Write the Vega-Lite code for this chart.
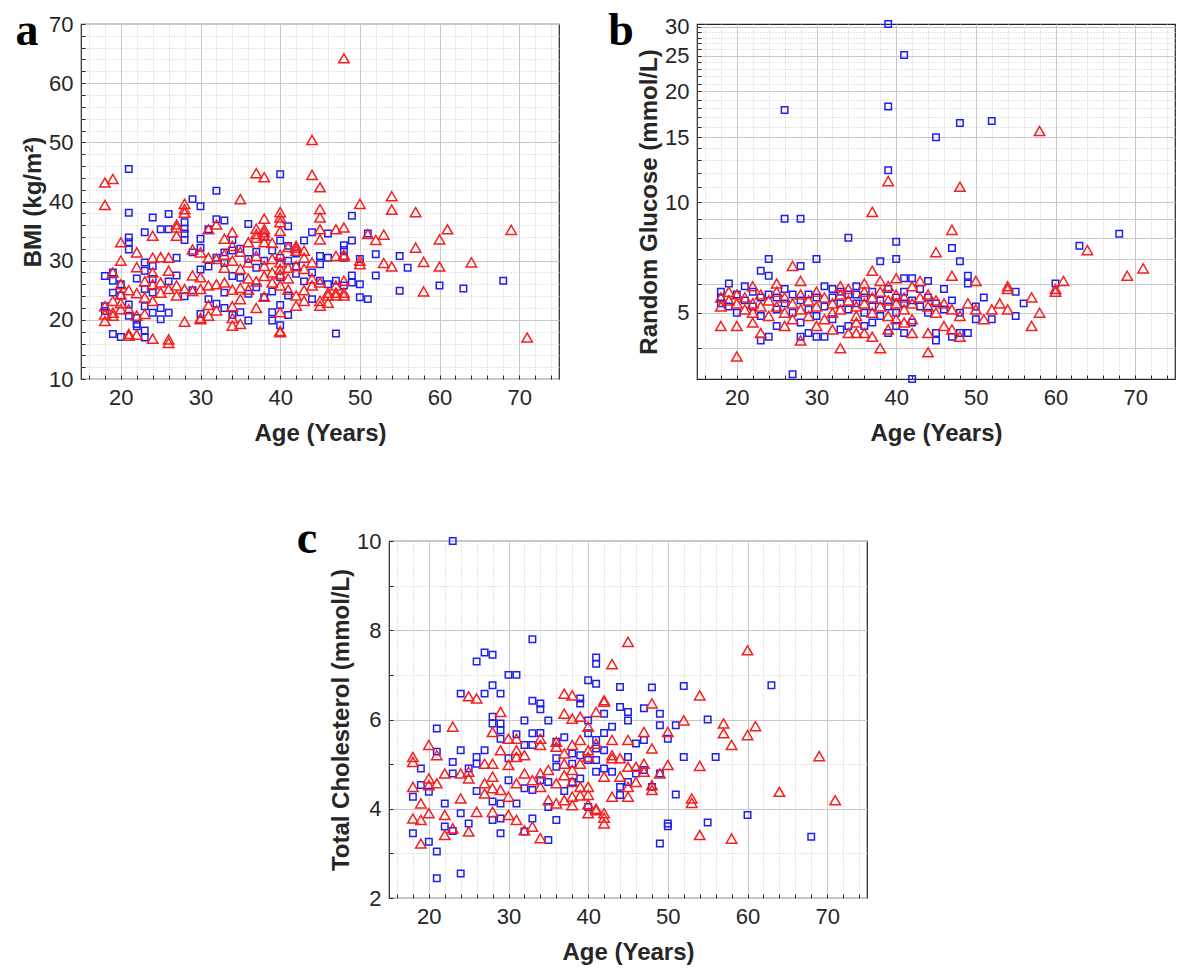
{
  "$schema": "https://vega.github.io/schema/vega-lite/v6.json",
  "padding": {"left": 14, "top": 7, "right": 5, "bottom": 5},
  "datasets": {
    "bmi": [
      {"age":21,"v":45.5,"g":1},{"age":21,"v":38.1,"g":1},{"age":21,"v":33.9,"g":1},{"age":21,"v":33.1,"g":1},{"age":21,"v":31.9,"g":1},{"age":18,"v":27.4,"g":1},{"age":19,"v":28,"g":1},{"age":19,"v":26.6,"g":1},{"age":18,"v":22.3,"g":1},{"age":19,"v":24.6,"g":1},{"age":20,"v":24.1,"g":1},{"age":21,"v":22.6,"g":1},{"age":21,"v":20.7,"g":1},{"age":22,"v":19.3,"g":1},{"age":23,"v":18.2,"g":1},{"age":19,"v":17.6,"g":1},{"age":20,"v":17.1,"g":1},{"age":23,"v":29.7,"g":1},{"age":24,"v":29.1,"g":1},{"age":23,"v":28.3,"g":1},{"age":24,"v":26.9,"g":1},{"age":23,"v":25.2,"g":1},{"age":24,"v":24.6,"g":1},{"age":23,"v":22.3,"g":1},{"age":24,"v":21.2,"g":1},{"age":25,"v":22,"g":1},{"age":25,"v":20.1,"g":1},{"age":26,"v":21.2,"g":1},{"age":26,"v":37.9,"g":1},{"age":26,"v":35.3,"g":1},{"age":25,"v":35.3,"g":1},{"age":24,"v":37.3,"g":1},{"age":23,"v":34.8,"g":1},{"age":28,"v":36.5,"g":1},{"age":28,"v":35.4,"g":1},{"age":28,"v":34.6,"g":1},{"age":28,"v":33.5,"g":1},{"age":29,"v":40.4,"g":1},{"age":30,"v":39.2,"g":1},{"age":32,"v":41.8,"g":1},{"age":32,"v":37,"g":1},{"age":33,"v":36.8,"g":1},{"age":36,"v":36.2,"g":1},{"age":40,"v":44.6,"g":1},{"age":41,"v":35.8,"g":1},{"age":29,"v":31.4,"g":1},{"age":30,"v":33.7,"g":1},{"age":30,"v":32.2,"g":1},{"age":31,"v":35.3,"g":1},{"age":33,"v":31.4,"g":1},{"age":34,"v":31.7,"g":1},{"age":35,"v":32,"g":1},{"age":36,"v":30.3,"g":1},{"age":33,"v":29.6,"g":1},{"age":34,"v":27.4,"g":1},{"age":35,"v":27.1,"g":1},{"age":33,"v":24.6,"g":1},{"age":31,"v":23.5,"g":1},{"age":32,"v":22.7,"g":1},{"age":35,"v":21.3,"g":1},{"age":36,"v":19.9,"g":1},{"age":34,"v":20.8,"g":1},{"age":39,"v":21.3,"g":1},{"age":39,"v":19.9,"g":1},{"age":40,"v":19.1,"g":1},{"age":41,"v":20.8,"g":1},{"age":40,"v":22.5,"g":1},{"age":39,"v":24.8,"g":1},{"age":41,"v":24.1,"g":1},{"age":40,"v":27.2,"g":1},{"age":42,"v":27.8,"g":1},{"age":42,"v":31.2,"g":1},{"age":43,"v":33.4,"g":1},{"age":40,"v":33.4,"g":1},{"age":39,"v":31.7,"g":1},{"age":38,"v":30,"g":1},{"age":37,"v":28.8,"g":1},{"age":36,"v":24.4,"g":1},{"age":38,"v":23.8,"g":1},{"age":45,"v":30.8,"g":1},{"age":45,"v":29.4,"g":1},{"age":46,"v":34.6,"g":1},{"age":48,"v":32.6,"g":1},{"age":48,"v":31.8,"g":1},{"age":49,"v":33.4,"g":1},{"age":49,"v":37.6,"g":1},{"age":51,"v":34.6,"g":1},{"age":52,"v":31.1,"g":1},{"age":52,"v":27.5,"g":1},{"age":55,"v":30.8,"g":1},{"age":56,"v":28.8,"g":1},{"age":55,"v":24.9,"g":1},{"age":60,"v":25.8,"g":1},{"age":63,"v":25.3,"g":1},{"age":68,"v":26.6,"g":1},{"age":47,"v":26.6,"g":1},{"age":48,"v":25.8,"g":1},{"age":49,"v":27.5,"g":1},{"age":49,"v":26.3,"g":1},{"age":50,"v":26,"g":1},{"age":50,"v":23.8,"g":1},{"age":51,"v":23.5,"g":1},{"age":47,"v":17.7,"g":1},{"age":45,"v":26.6,"g":1},{"age":46,"v":26,"g":1},{"age":44,"v":34.8,"g":1},{"age":22,"v":20.3,"g":1},{"age":22,"v":18.9,"g":1},{"age":23,"v":17,"g":1},{"age":18,"v":21.5,"g":1},{"age":20,"v":26,"g":1},{"age":22,"v":27,"g":1},{"age":27,"v":27.5,"g":1},{"age":27,"v":30.5,"g":1},{"age":29,"v":25,"g":1},{"age":30,"v":28.5,"g":1},{"age":31,"v":29,"g":1},{"age":32,"v":30.5,"g":1},{"age":34,"v":33.5,"g":1},{"age":37,"v":31.5,"g":1},{"age":38,"v":34,"g":1},{"age":41,"v":30,"g":1},{"age":42,"v":29,"g":1},{"age":43,"v":26.5,"g":1},{"age":44,"v":28,"g":1},{"age":44,"v":23.5,"g":1},{"age":26,"v":26.5,"g":1},{"age":28,"v":24,"g":1},{"age":30,"v":21,"g":1},{"age":33,"v":22,"g":1},{"age":37,"v":25.5,"g":1},{"age":40,"v":30.5,"g":1},{"age":41,"v":32.5,"g":1},{"age":46,"v":30.5,"g":1},{"age":48,"v":30.5,"g":1},{"age":50,"v":30.3,"g":1},
      {"age":48,"v":64.2,"g":2},{"age":44,"v":50.4,"g":2},{"age":44,"v":44.5,"g":2},{"age":45,"v":42.4,"g":2},{"age":37,"v":44.8,"g":2},{"age":38,"v":44.1,"g":2},{"age":18,"v":43.2,"g":2},{"age":19,"v":43.8,"g":2},{"age":18,"v":39.4,"g":2},{"age":35,"v":40.4,"g":2},{"age":50,"v":39.6,"g":2},{"age":54,"v":40.9,"g":2},{"age":54,"v":38.6,"g":2},{"age":57,"v":38.2,"g":2},{"age":61,"v":35.3,"g":2},{"age":69,"v":35.2,"g":2},{"age":60,"v":33.6,"g":2},{"age":57,"v":32.2,"g":2},{"age":58,"v":29.8,"g":2},{"age":64,"v":29.7,"g":2},{"age":60,"v":29,"g":2},{"age":54,"v":29,"g":2},{"age":58,"v":24.8,"g":2},{"age":53,"v":34.4,"g":2},{"age":52,"v":33.5,"g":2},{"age":51,"v":34.5,"g":2},{"age":50,"v":30,"g":2},{"age":45,"v":38.7,"g":2},{"age":45,"v":37.3,"g":2},{"age":45,"v":35.3,"g":2},{"age":45,"v":33.6,"g":2},{"age":47,"v":35.3,"g":2},{"age":48,"v":35.6,"g":2},{"age":48,"v":31,"g":2},{"age":48,"v":24.6,"g":2},{"age":47,"v":24.6,"g":2},{"age":46,"v":24.6,"g":2},{"age":45,"v":23.2,"g":2},{"age":46,"v":22.9,"g":2},{"age":28,"v":38.7,"g":2},{"age":28,"v":39.6,"g":2},{"age":31,"v":35.3,"g":2},{"age":27,"v":36.1,"g":2},{"age":27,"v":34.2,"g":2},{"age":20,"v":33.1,"g":2},{"age":20,"v":30,"g":2},{"age":22,"v":31.4,"g":2},{"age":24,"v":34.2,"g":2},{"age":25,"v":30.6,"g":2},{"age":38,"v":37.1,"g":2},{"age":40,"v":38.2,"g":2},{"age":40,"v":37.3,"g":2},{"age":37,"v":34.5,"g":2},{"age":38,"v":34.8,"g":2},{"age":38,"v":35.3,"g":2},{"age":34,"v":32.5,"g":2},{"age":42,"v":32.2,"g":2},{"age":43,"v":30.5,"g":2},{"age":21,"v":17.3,"g":2},{"age":22,"v":17.5,"g":2},{"age":24,"v":16.8,"g":2},{"age":26,"v":16.7,"g":2},{"age":26,"v":16.1,"g":2},{"age":28,"v":19.7,"g":2},{"age":30,"v":20.3,"g":2},{"age":34,"v":19,"g":2},{"age":40,"v":18.1,"g":2},{"age":71,"v":17,"g":2},{"age":53,"v":29.6,"g":2},{"age":19,"v":28,"g":2},{"age":20,"v":26,"g":2},{"age":20,"v":24.3,"g":2},{"age":19,"v":23.2,"g":2},{"age":18,"v":22.3,"g":2},{"age":18,"v":20.9,"g":2},{"age":18,"v":19.8,"g":2},{"age":19,"v":20.7,"g":2},{"age":20,"v":21.8,"g":2},{"age":21,"v":21.8,"g":2},{"age":22,"v":20.7,"g":2},{"age":23,"v":21,"g":2},{"age":21,"v":17.6,"g":2},{"age":22,"v":28.9,"g":2},{"age":24,"v":28,"g":2},{"age":24,"v":26,"g":2},{"age":25,"v":26.3,"g":2},{"age":26,"v":28.3,"g":2},{"age":26,"v":25.2,"g":2},{"age":25,"v":24.6,"g":2},{"age":23,"v":23.8,"g":2},{"age":24,"v":23.2,"g":2},{"age":27,"v":35.6,"g":2},{"age":28,"v":38.1,"g":2},{"age":29,"v":31.9,"g":2},{"age":30,"v":31.4,"g":2},{"age":31,"v":30.5,"g":2},{"age":32,"v":30.3,"g":2},{"age":33,"v":28.8,"g":2},{"age":34,"v":30,"g":2},{"age":35,"v":28.6,"g":2},{"age":36,"v":29.7,"g":2},{"age":37,"v":30.8,"g":2},{"age":38,"v":29.1,"g":2},{"age":39,"v":30.3,"g":2},{"age":40,"v":29.7,"g":2},{"age":40,"v":28.6,"g":2},{"age":40,"v":27.7,"g":2},{"age":41,"v":28.8,"g":2},{"age":42,"v":29.1,"g":2},{"age":43,"v":28.6,"g":2},{"age":44,"v":29.7,"g":2},{"age":29,"v":27.5,"g":2},{"age":30,"v":27.2,"g":2},{"age":31,"v":25.8,"g":2},{"age":32,"v":26,"g":2},{"age":33,"v":26.3,"g":2},{"age":34,"v":25.1,"g":2},{"age":35,"v":25.4,"g":2},{"age":36,"v":25.1,"g":2},{"age":37,"v":26.5,"g":2},{"age":38,"v":27.4,"g":2},{"age":39,"v":26.3,"g":2},{"age":40,"v":25.8,"g":2},{"age":41,"v":25.1,"g":2},{"age":42,"v":24.1,"g":2},{"age":43,"v":23.2,"g":2},{"age":44,"v":25.8,"g":2},{"age":45,"v":26.3,"g":2},{"age":30,"v":25.2,"g":2},{"age":31,"v":22.5,"g":2},{"age":32,"v":21.6,"g":2},{"age":34,"v":22.3,"g":2},{"age":34,"v":20.3,"g":2},{"age":35,"v":19.3,"g":2},{"age":37,"v":22,"g":2},{"age":38,"v":23.9,"g":2},{"age":40,"v":21.3,"g":2},{"age":42,"v":22.4,"g":2},{"age":45,"v":22.4,"g":2},{"age":47,"v":24.1,"g":2},{"age":48,"v":24.1,"g":2},{"age":40,"v":17.9,"g":2},{"age":30,"v":20.1,"g":2},{"age":31,"v":20.7,"g":2},{"age":29,"v":24.9,"g":2},{"age":28,"v":25.2,"g":2},{"age":27,"v":24.1,"g":2},{"age":27,"v":25.8,"g":2},{"age":42,"v":32.5,"g":2},{"age":42,"v":31.7,"g":2},{"age":43,"v":31.7,"g":2},{"age":41,"v":32.3,"g":2},{"age":37,"v":35.4,"g":2},{"age":38,"v":34.2,"g":2},{"age":38,"v":33.1,"g":2},{"age":37,"v":33.9,"g":2},{"age":36,"v":33.1,"g":2},{"age":34,"v":34.8,"g":2},{"age":33,"v":33.7,"g":2},{"age":32,"v":36.1,"g":2},{"age":50,"v":29.4,"g":2},{"age":47,"v":30.8,"g":2},{"age":48,"v":30.8,"g":2},{"age":46,"v":24.1,"g":2},{"age":47,"v":25.8,"g":2},{"age":48,"v":26.6,"g":2},{"age":40,"v":31,"g":2},{"age":39,"v":28,"g":2},{"age":36,"v":27,"g":2},{"age":35,"v":31.5,"g":2},{"age":33,"v":31,"g":2},{"age":26,"v":30.5,"g":2},{"age":24,"v":30.5,"g":2},{"age":22,"v":24.5,"g":2},{"age":21,"v":25,"g":2},{"age":20,"v":22.8,"g":2},{"age":19,"v":21.2,"g":2},{"age":23,"v":26.5,"g":2},{"age":35,"v":23.5,"g":2},{"age":44,"v":27,"g":2},{"age":43,"v":25,"g":2},{"age":41,"v":27,"g":2},{"age":39,"v":33,"g":2},{"age":40,"v":35,"g":2},{"age":40,"v":36.5,"g":2}
    ],
    "glu": [
      {"age":39,"v":30.5,"g":1},{"age":41,"v":25.1,"g":1},{"age":26,"v":17.8,"g":1},{"age":39,"v":18.2,"g":1},{"age":45,"v":15.0,"g":1},{"age":48,"v":16.4,"g":1},{"age":52,"v":16.6,"g":1},{"age":39,"v":12.2,"g":1},{"age":26,"v":9.0,"g":1},{"age":28,"v":9.0,"g":1},{"age":34,"v":8.0,"g":1},{"age":40,"v":7.8,"g":1},{"age":47,"v":7.5,"g":1},{"age":63,"v":7.6,"g":1},{"age":68,"v":8.2,"g":1},{"age":30,"v":7.0,"g":1},{"age":24,"v":7.0,"g":1},{"age":40,"v":7.0,"g":1},{"age":38,"v":6.9,"g":1},{"age":48,"v":6.9,"g":1},{"age":28,"v":6.7,"g":1},{"age":23,"v":6.5,"g":1},{"age":24,"v":6.3,"g":1},{"age":49,"v":6.3,"g":1},{"age":49,"v":6.0,"g":1},{"age":41,"v":6.2,"g":1},{"age":42,"v":6.2,"g":1},{"age":44,"v":6.1,"g":1},{"age":19,"v":6.0,"g":1},{"age":21,"v":5.9,"g":1},{"age":18,"v":5.7,"g":1},{"age":31,"v":5.9,"g":1},{"age":32,"v":5.8,"g":1},{"age":35,"v":5.9,"g":1},{"age":35,"v":5.6,"g":1},{"age":46,"v":5.8,"g":1},{"age":55,"v":5.7,"g":1},{"age":56,"v":5.3,"g":1},{"age":55,"v":4.9,"g":1},{"age":51,"v":5.5,"g":1},{"age":50,"v":5.2,"g":1},{"age":52,"v":4.8,"g":1},{"age":60,"v":6.0,"g":1},{"age":48,"v":4.4,"g":1},{"age":49,"v":4.4,"g":1},{"age":47,"v":4.3,"g":1},{"age":45,"v":4.2,"g":1},{"age":39,"v":4.4,"g":1},{"age":41,"v":4.4,"g":1},{"age":23,"v":4.2,"g":1},{"age":24,"v":4.3,"g":1},{"age":27,"v":3.4,"g":1},{"age":42,"v":3.3,"g":1},{"age":28,"v":4.3,"g":1},{"age":30,"v":4.3,"g":1},{"age":31,"v":4.3,"g":1},{"age":34,"v":4.6,"g":1},{"age":45,"v":4.4,"g":1},{"age":18,"v":5.3,"g":1},{"age":18,"v":5.5,"g":1},{"age":19,"v":5.2,"g":1},{"age":20,"v":5.6,"g":1},{"age":20,"v":5.0,"g":1},{"age":21,"v":5.4,"g":1},{"age":22,"v":5.2,"g":1},{"age":22,"v":5.7,"g":1},{"age":23,"v":5.5,"g":1},{"age":23,"v":4.9,"g":1},{"age":24,"v":5.6,"g":1},{"age":25,"v":5.1,"g":1},{"age":25,"v":5.5,"g":1},{"age":26,"v":5.3,"g":1},{"age":26,"v":5.8,"g":1},{"age":27,"v":5.0,"g":1},{"age":27,"v":5.6,"g":1},{"age":28,"v":5.4,"g":1},{"age":28,"v":4.7,"g":1},{"age":29,"v":5.6,"g":1},{"age":29,"v":5.1,"g":1},{"age":30,"v":5.5,"g":1},{"age":30,"v":4.9,"g":1},{"age":31,"v":5.2,"g":1},{"age":32,"v":5.5,"g":1},{"age":32,"v":4.8,"g":1},{"age":33,"v":5.3,"g":1},{"age":33,"v":5.7,"g":1},{"age":34,"v":5.1,"g":1},{"age":34,"v":5.6,"g":1},{"age":35,"v":5.3,"g":1},{"age":36,"v":5.5,"g":1},{"age":36,"v":5.0,"g":1},{"age":37,"v":5.7,"g":1},{"age":37,"v":5.2,"g":1},{"age":38,"v":5.4,"g":1},{"age":38,"v":4.9,"g":1},{"age":39,"v":5.8,"g":1},{"age":39,"v":5.2,"g":1},{"age":40,"v":5.5,"g":1},{"age":40,"v":5.0,"g":1},{"age":41,"v":5.3,"g":1},{"age":41,"v":5.7,"g":1},{"age":42,"v":5.4,"g":1},{"age":42,"v":4.7,"g":1},{"age":43,"v":5.2,"g":1},{"age":43,"v":5.8,"g":1},{"age":44,"v":5.0,"g":1},{"age":44,"v":5.5,"g":1},{"age":45,"v":5.3,"g":1},{"age":46,"v":5.1,"g":1},{"age":47,"v":5.4,"g":1},{"age":48,"v":5.0,"g":1},{"age":50,"v":4.8,"g":1},{"age":33,"v":4.5,"g":1},{"age":36,"v":4.6,"g":1},{"age":25,"v":4.6,"g":1},{"age":29,"v":4.4,"g":1},{"age":37,"v":4.7,"g":1},{"age":40,"v":4.6,"g":1},
      {"age":58,"v":15.6,"g":2},{"age":39,"v":11.4,"g":2},{"age":48,"v":11.0,"g":2},{"age":37,"v":9.4,"g":2},{"age":64,"v":7.4,"g":2},{"age":47,"v":8.4,"g":2},{"age":45,"v":7.3,"g":2},{"age":27,"v":6.7,"g":2},{"age":37,"v":6.5,"g":2},{"age":47,"v":6.3,"g":2},{"age":50,"v":6.1,"g":2},{"age":28,"v":6.1,"g":2},{"age":38,"v":6.1,"g":2},{"age":40,"v":6.2,"g":2},{"age":42,"v":5.9,"g":2},{"age":43,"v":6.1,"g":2},{"age":22,"v":5.9,"g":2},{"age":54,"v":5.9,"g":2},{"age":54,"v":5.8,"g":2},{"age":57,"v":5.5,"g":2},{"age":58,"v":5.0,"g":2},{"age":60,"v":5.8,"g":2},{"age":60,"v":5.7,"g":2},{"age":61,"v":6.1,"g":2},{"age":57,"v":4.6,"g":2},{"age":48,"v":4.3,"g":2},{"age":47,"v":4.5,"g":2},{"age":44,"v":3.9,"g":2},{"age":38,"v":4.0,"g":2},{"age":33,"v":4.0,"g":2},{"age":36,"v":4.4,"g":2},{"age":37,"v":4.3,"g":2},{"age":42,"v":4.4,"g":2},{"age":23,"v":4.4,"g":2},{"age":20,"v":4.6,"g":2},{"age":18,"v":4.6,"g":2},{"age":20,"v":3.8,"g":2},{"age":28,"v":4.2,"g":2},{"age":34,"v":4.4,"g":2},{"age":35,"v":4.4,"g":2},{"age":46,"v":4.6,"g":2},{"age":50,"v":5.1,"g":2},{"age":53,"v":5.3,"g":2},{"age":52,"v":5.1,"g":2},{"age":54,"v":5.1,"g":2},{"age":51,"v":4.8,"g":2},{"age":69,"v":6.3,"g":2},{"age":71,"v":6.6,"g":2},{"age":18,"v":5.5,"g":2},{"age":18,"v":5.2,"g":2},{"age":19,"v":5.4,"g":2},{"age":19,"v":5.7,"g":2},{"age":20,"v":5.3,"g":2},{"age":20,"v":5.6,"g":2},{"age":21,"v":5.1,"g":2},{"age":21,"v":5.5,"g":2},{"age":22,"v":5.3,"g":2},{"age":22,"v":5.0,"g":2},{"age":23,"v":5.6,"g":2},{"age":23,"v":5.2,"g":2},{"age":24,"v":5.4,"g":2},{"age":24,"v":4.9,"g":2},{"age":25,"v":5.7,"g":2},{"age":25,"v":5.2,"g":2},{"age":26,"v":5.5,"g":2},{"age":26,"v":5.0,"g":2},{"age":27,"v":5.3,"g":2},{"age":27,"v":4.8,"g":2},{"age":28,"v":5.6,"g":2},{"age":28,"v":5.1,"g":2},{"age":29,"v":5.4,"g":2},{"age":29,"v":4.9,"g":2},{"age":30,"v":5.7,"g":2},{"age":30,"v":5.2,"g":2},{"age":31,"v":5.5,"g":2},{"age":31,"v":4.8,"g":2},{"age":32,"v":5.3,"g":2},{"age":32,"v":5.0,"g":2},{"age":33,"v":5.6,"g":2},{"age":33,"v":5.1,"g":2},{"age":34,"v":5.8,"g":2},{"age":34,"v":5.4,"g":2},{"age":35,"v":5.2,"g":2},{"age":35,"v":4.9,"g":2},{"age":36,"v":5.7,"g":2},{"age":36,"v":5.3,"g":2},{"age":37,"v":5.5,"g":2},{"age":37,"v":5.0,"g":2},{"age":38,"v":5.7,"g":2},{"age":38,"v":5.2,"g":2},{"age":39,"v":5.9,"g":2},{"age":39,"v":5.4,"g":2},{"age":39,"v":4.9,"g":2},{"age":40,"v":5.6,"g":2},{"age":40,"v":5.3,"g":2},{"age":40,"v":4.8,"g":2},{"age":41,"v":5.5,"g":2},{"age":41,"v":5.1,"g":2},{"age":42,"v":5.3,"g":2},{"age":42,"v":4.8,"g":2},{"age":43,"v":5.5,"g":2},{"age":44,"v":5.2,"g":2},{"age":44,"v":5.6,"g":2},{"age":45,"v":5.0,"g":2},{"age":45,"v":5.4,"g":2},{"age":46,"v":5.3,"g":2},{"age":47,"v":5.1,"g":2},{"age":48,"v":4.9,"g":2},{"age":49,"v":5.3,"g":2},{"age":22,"v":4.7,"g":2},{"age":26,"v":4.6,"g":2},{"age":30,"v":4.6,"g":2},{"age":32,"v":4.5,"g":2},{"age":35,"v":4.7,"g":2},{"age":39,"v":4.5,"g":2},{"age":41,"v":4.7,"g":2},{"age":36,"v":6.0,"g":2},{"age":33,"v":5.9,"g":2},{"age":25,"v":6.0,"g":2},{"age":44,"v":4.4,"g":2}
    ],
    "chol": [
      {"age":23,"v":10.0,"g":1},{"age":33,"v":7.8,"g":1},{"age":26,"v":7.3,"g":1},{"age":27,"v":7.5,"g":1},{"age":28,"v":7.45,"g":1},{"age":30,"v":7.0,"g":1},{"age":31,"v":7.0,"g":1},{"age":41,"v":7.39,"g":1},{"age":41,"v":7.25,"g":1},{"age":40,"v":6.88,"g":1},{"age":41,"v":6.8,"g":1},{"age":44,"v":6.73,"g":1},{"age":48,"v":6.72,"g":1},{"age":52,"v":6.75,"g":1},{"age":63,"v":6.77,"g":1},{"age":24,"v":6.58,"g":1},{"age":27,"v":6.58,"g":1},{"age":28,"v":6.77,"g":1},{"age":29,"v":6.58,"g":1},{"age":39,"v":6.47,"g":1},{"age":33,"v":6.42,"g":1},{"age":34,"v":6.36,"g":1},{"age":34,"v":6.23,"g":1},{"age":32,"v":5.98,"g":1},{"age":35,"v":5.98,"g":1},{"age":28,"v":6.06,"g":1},{"age":28,"v":5.91,"g":1},{"age":29,"v":5.91,"g":1},{"age":29,"v":5.76,"g":1},{"age":29,"v":5.57,"g":1},{"age":31,"v":5.67,"g":1},{"age":33,"v":5.69,"g":1},{"age":34,"v":5.7,"g":1},{"age":33,"v":5.43,"g":1},{"age":39,"v":6.36,"g":1},{"age":40,"v":5.98,"g":1},{"age":40,"v":5.69,"g":1},{"age":42,"v":6.13,"g":1},{"age":44,"v":6.28,"g":1},{"age":45,"v":6.17,"g":1},{"age":45,"v":5.98,"g":1},{"age":47,"v":6.25,"g":1},{"age":49,"v":6.13,"g":1},{"age":55,"v":6.0,"g":1},{"age":49,"v":5.87,"g":1},{"age":51,"v":5.87,"g":1},{"age":50,"v":5.57,"g":1},{"age":47,"v":5.54,"g":1},{"age":46,"v":5.46,"g":1},{"age":43,"v":5.84,"g":1},{"age":42,"v":5.7,"g":1},{"age":41,"v":5.54,"g":1},{"age":41,"v":5.35,"g":1},{"age":52,"v":5.16,"g":1},{"age":56,"v":5.16,"g":1},{"age":60,"v":3.86,"g":1},{"age":68,"v":3.37,"g":1},{"age":55,"v":3.69,"g":1},{"age":51,"v":4.32,"g":1},{"age":50,"v":3.67,"g":1},{"age":50,"v":3.61,"g":1},{"age":49,"v":3.22,"g":1},{"age":49,"v":4.79,"g":1},{"age":46,"v":4.79,"g":1},{"age":44,"v":4.31,"g":1},{"age":43,"v":4.83,"g":1},{"age":41,"v":4.83,"g":1},{"age":41,"v":5.09,"g":1},{"age":40,"v":4.04,"g":1},{"age":39,"v":4.68,"g":1},{"age":36,"v":3.75,"g":1},{"age":35,"v":4.04,"g":1},{"age":35,"v":3.3,"g":1},{"age":33,"v":3.78,"g":1},{"age":32,"v":3.49,"g":1},{"age":29,"v":3.45,"g":1},{"age":29,"v":3.78,"g":1},{"age":28,"v":3.75,"g":1},{"age":25,"v":3.67,"g":1},{"age":21,"v":3.04,"g":1},{"age":20,"v":3.26,"g":1},{"age":18,"v":3.45,"g":1},{"age":21,"v":2.44,"g":1},{"age":24,"v":2.55,"g":1},{"age":21,"v":5.8,"g":1},{"age":21,"v":5.28,"g":1},{"age":19,"v":4.9,"g":1},{"age":18,"v":4.27,"g":1},{"age":19,"v":4.53,"g":1},{"age":20,"v":4.38,"g":1},{"age":23,"v":5.05,"g":1},{"age":24,"v":5.31,"g":1},{"age":23,"v":4.79,"g":1},{"age":22,"v":4.12,"g":1},{"age":24,"v":3.9,"g":1},{"age":25,"v":4.9,"g":1},{"age":26,"v":5.16,"g":1},{"age":26,"v":5.01,"g":1},{"age":28,"v":4.16,"g":1},{"age":29,"v":4.12,"g":1},{"age":30,"v":4.64,"g":1},{"age":31,"v":4.12,"g":1},{"age":32,"v":4.46,"g":1},{"age":33,"v":4.42,"g":1},{"age":34,"v":4.64,"g":1},{"age":35,"v":4.6,"g":1},{"age":36,"v":4.94,"g":1},{"age":38,"v":5.01,"g":1},{"age":39,"v":5.2,"g":1},{"age":40,"v":5.09,"g":1},{"age":30,"v":5.13,"g":1},{"age":32,"v":5.43,"g":1},{"age":27,"v":5.31,"g":1},{"age":36,"v":5.13,"g":1},{"age":38,"v":5.24,"g":1},{"age":42,"v":5.31,"g":1},{"age":45,"v":5.16,"g":1},{"age":47,"v":4.87,"g":1},{"age":48,"v":4.49,"g":1},{"age":44,"v":4.49,"g":1},{"age":42,"v":4.9,"g":1},{"age":22,"v":3.6,"g":1},{"age":23,"v":3.5,"g":1},{"age":37,"v":4.4,"g":1},{"age":38,"v":4.6,"g":1},{"age":26,"v":4.4,"g":1},{"age":45,"v":4.6,"g":1},{"age":36,"v":5.5,"g":1},{"age":37,"v":5.6,"g":1},
      {"age":45,"v":7.74,"g":2},{"age":60,"v":7.55,"g":2},{"age":43,"v":7.24,"g":2},{"age":25,"v":6.52,"g":2},{"age":26,"v":6.47,"g":2},{"age":37,"v":6.58,"g":2},{"age":38,"v":6.54,"g":2},{"age":42,"v":6.43,"g":2},{"age":54,"v":6.54,"g":2},{"age":29,"v":6.17,"g":2},{"age":30,"v":5.57,"g":2},{"age":31,"v":5.57,"g":2},{"age":28,"v":5.72,"g":2},{"age":34,"v":5.57,"g":2},{"age":34,"v":5.43,"g":2},{"age":37,"v":6.13,"g":2},{"age":38,"v":6.02,"g":2},{"age":39,"v":6.06,"g":2},{"age":40,"v":5.84,"g":2},{"age":41,"v":6.17,"g":2},{"age":42,"v":6.4,"g":2},{"age":48,"v":6.36,"g":2},{"age":52,"v":5.98,"g":2},{"age":57,"v":5.91,"g":2},{"age":57,"v":5.69,"g":2},{"age":58,"v":5.43,"g":2},{"age":60,"v":5.65,"g":2},{"age":61,"v":5.85,"g":2},{"age":50,"v":5.72,"g":2},{"age":47,"v":5.72,"g":2},{"age":45,"v":5.54,"g":2},{"age":43,"v":5.54,"g":2},{"age":43,"v":5.2,"g":2},{"age":41,"v":5.46,"g":2},{"age":48,"v":5.35,"g":2},{"age":54,"v":4.96,"g":2},{"age":69,"v":5.18,"g":2},{"age":64,"v":4.38,"g":2},{"age":71,"v":4.19,"g":2},{"age":58,"v":3.33,"g":2},{"age":54,"v":3.41,"g":2},{"age":53,"v":4.23,"g":2},{"age":53,"v":4.13,"g":2},{"age":50,"v":4.98,"g":2},{"age":48,"v":4.53,"g":2},{"age":48,"v":4.42,"g":2},{"age":47,"v":4.83,"g":2},{"age":46,"v":4.6,"g":2},{"age":45,"v":4.49,"g":2},{"age":45,"v":4.27,"g":2},{"age":43,"v":5.13,"g":2},{"age":42,"v":4.72,"g":2},{"age":42,"v":3.9,"g":2},{"age":42,"v":3.67,"g":2},{"age":41,"v":3.97,"g":2},{"age":40,"v":3.9,"g":2},{"age":40,"v":4.31,"g":2},{"age":40,"v":4.49,"g":2},{"age":39,"v":4.49,"g":2},{"age":38,"v":4.08,"g":2},{"age":38,"v":4.27,"g":2},{"age":38,"v":4.6,"g":2},{"age":37,"v":4.19,"g":2},{"age":36,"v":4.12,"g":2},{"age":35,"v":4.19,"g":2},{"age":34,"v":3.34,"g":2},{"age":33,"v":3.6,"g":2},{"age":32,"v":3.52,"g":2},{"age":31,"v":3.75,"g":2},{"age":30,"v":3.86,"g":2},{"age":28,"v":3.93,"g":2},{"age":26,"v":3.93,"g":2},{"age":25,"v":3.49,"g":2},{"age":23,"v":3.56,"g":2},{"age":22,"v":3.41,"g":2},{"age":19,"v":3.22,"g":2},{"age":18,"v":3.78,"g":2},{"age":23,"v":5.84,"g":2},{"age":20,"v":5.43,"g":2},{"age":21,"v":5.2,"g":2},{"age":18,"v":5.16,"g":2},{"age":18,"v":5.05,"g":2},{"age":18,"v":4.49,"g":2},{"age":19,"v":4.12,"g":2},{"age":20,"v":4.68,"g":2},{"age":20,"v":4.53,"g":2},{"age":21,"v":4.57,"g":2},{"age":22,"v":4.79,"g":2},{"age":24,"v":4.79,"g":2},{"age":22,"v":3.86,"g":2},{"age":20,"v":3.9,"g":2},{"age":19,"v":3.75,"g":2},{"age":24,"v":4.23,"g":2},{"age":25,"v":4.83,"g":2},{"age":25,"v":4.68,"g":2},{"age":27,"v":5.01,"g":2},{"age":27,"v":4.57,"g":2},{"age":27,"v":4.34,"g":2},{"age":28,"v":4.72,"g":2},{"age":28,"v":4.46,"g":2},{"age":29,"v":4.42,"g":2},{"age":30,"v":4.27,"g":2},{"age":31,"v":4.57,"g":2},{"age":32,"v":4.79,"g":2},{"age":33,"v":4.64,"g":2},{"age":34,"v":4.79,"g":2},{"age":34,"v":4.49,"g":2},{"age":35,"v":4.87,"g":2},{"age":36,"v":4.57,"g":2},{"age":37,"v":5.01,"g":2},{"age":37,"v":4.75,"g":2},{"age":38,"v":4.87,"g":2},{"age":39,"v":5.01,"g":2},{"age":40,"v":5.31,"g":2},{"age":40,"v":5.16,"g":2},{"age":30,"v":4.98,"g":2},{"age":31,"v":5.31,"g":2},{"age":31,"v":5.16,"g":2},{"age":32,"v":5.2,"g":2},{"age":29,"v":5.31,"g":2},{"age":28,"v":5.01,"g":2},{"age":36,"v":5.5,"g":2},{"age":36,"v":5.39,"g":2},{"age":38,"v":5.43,"g":2},{"age":37,"v":5.24,"g":2},{"age":39,"v":5.54,"g":2},{"age":44,"v":5.13,"g":2},{"age":45,"v":4.94,"g":2},{"age":46,"v":4.94,"g":2},{"age":47,"v":5.01,"g":2},{"age":49,"v":4.79,"g":2},{"age":44,"v":4.72,"g":2},{"age":43,"v":4.27,"g":2},{"age":42,"v":3.8,"g":2},{"age":40,"v":4.1,"g":2},{"age":41,"v":4.0,"g":2},{"age":39,"v":4.3,"g":2}
    ],
    "none": []
  },
  "vconcat": [
    {
      "hconcat": [
        {
          "width": 478,
          "height": 355,
          "title": {"text": "a", "orient": "left", "anchor": "end", "frame": "group", "angle": 0, "align": "right", "baseline": "top", "dy": -15, "offset": -40},
          "data": {"name": "bmi"},
          "mark": {"type": "point", "filled": false, "strokeWidth": 1.5, "opacity": 1},
          "encoding": {
            "x": {
              "field": "age", "type": "quantitative", "title": "Age (Years)",
              "scale": {"domain": [15, 75], "nice": false, "zero": false},
              "axis": {
                "values": [16,18,20,22,24,26,28,30,32,34,36,38,40,42,44,46,48,50,52,54,56,58,60,62,64,66,68,70,72,74],
                "format": "d",
                "titlePadding": 13,
                "labelExpr": "datum.value % 10 === 0 ? datum.label : ''",
                "gridDash": {"condition": {"test": "datum.value % 10 === 0", "value": []}, "value": [1, 2]}
              }
            },
            "y": {
              "field": "v", "type": "quantitative", "title": "BMI (kg/m²)",
              "scale": {"domain": [10, 70], "nice": false, "zero": false},
              "axis": {
                "values": [10,12,14,16,18,20,22,24,26,28,30,32,34,36,38,40,42,44,46,48,50,52,54,56,58,60,62,64,66,68,70],
                "format": "d",
                "titlePadding": 3,
                "labelExpr": "datum.value % 10 === 0 ? datum.label : ''",
                "gridDash": {"condition": {"test": "datum.value % 10 === 0", "value": []}, "value": [1, 2]}
              }
            },
            "shape": {"field": "g", "type": "nominal", "scale": {"domain": [1, 2], "range": ["square", "triangle-up"]}, "legend": null},
            "color": {"field": "g", "type": "nominal", "scale": {"domain": [1, 2], "range": ["#1f1ff0", "#f51f1f"]}, "legend": null},
            "size": {"field": "g", "type": "ordinal", "scale": {"domain": [1, 2], "range": [42, 110]}, "legend": null}
          }
        },
        {
          "width": 478,
          "height": 355,
          "title": {"text": "b", "orient": "left", "anchor": "end", "frame": "group", "angle": 0, "align": "right", "baseline": "top", "dy": -15, "offset": -22},
          "data": {"name": "glu"},
          "mark": {"type": "point", "filled": false, "strokeWidth": 1.5, "opacity": 1},
          "encoding": {
            "x": {
              "field": "age", "type": "quantitative", "title": "Age (Years)",
              "scale": {"domain": [15, 75], "nice": false, "zero": false},
              "axis": {
                "values": [16,18,20,22,24,26,28,30,32,34,36,38,40,42,44,46,48,50,52,54,56,58,60,62,64,66,68,70,72,74],
                "format": "d",
                "titlePadding": 13,
                "labelExpr": "datum.value % 10 === 0 ? datum.label : ''",
                "gridDash": {"condition": {"test": "datum.value % 10 === 0", "value": []}, "value": [1, 2]}
              }
            },
            "y": {
              "field": "v", "type": "quantitative", "title": "Random Glucose (mmol/L)",
              "scale": {"type": "log", "domain": [3.3, 30.5], "nice": false, "zero": false},
              "axis": {
                "values": [4,5,6,7,8,9,10,11,12,13,14,15,16,17,18,19,20,21,22,23,24,25,26,27,28,29,30],
                "format": "d",
                "titlePadding": 3,
                "labelExpr": "datum.value % 5 === 0 ? datum.label : ''",
                "gridDash": {"condition": {"test": "datum.value % 5 === 0 || datum.value < 10", "value": []}, "value": [1, 2]}
              }
            },
            "shape": {"field": "g", "type": "nominal", "scale": {"domain": [1, 2], "range": ["square", "triangle-up"]}, "legend": null},
            "color": {"field": "g", "type": "nominal", "scale": {"domain": [1, 2], "range": ["#1f1ff0", "#f51f1f"]}, "legend": null},
            "size": {"field": "g", "type": "ordinal", "scale": {"domain": [1, 2], "range": [42, 110]}, "legend": null}
          }
        }
      ],
      "spacing": 47
    },
    {
      "hconcat": [
        {
          "width": 1,
          "height": 1,
          "data": {"name": "none"},
          "mark": "point",
          "view": {"stroke": null}
        },
        {
          "width": 478,
          "height": 357,
          "title": {"text": "c", "orient": "left", "anchor": "end", "frame": "group", "angle": 0, "align": "right", "baseline": "top", "dy": -24, "offset": -8},
          "data": {"name": "chol"},
          "mark": {"type": "point", "filled": false, "strokeWidth": 1.5, "opacity": 1},
          "encoding": {
            "x": {
              "field": "age", "type": "quantitative", "title": "Age (Years)",
              "scale": {"domain": [15, 75], "nice": false, "zero": false},
              "axis": {
                "values": [16,18,20,22,24,26,28,30,32,34,36,38,40,42,44,46,48,50,52,54,56,58,60,62,64,66,68,70,72,74],
                "format": "d",
                "titlePadding": 13,
                "labelExpr": "datum.value % 10 === 0 ? datum.label : ''",
                "gridDash": {"condition": {"test": "datum.value % 10 === 0", "value": []}, "value": [1, 2]}
              }
            },
            "y": {
              "field": "v", "type": "quantitative", "title": "Total Cholesterol (mmol/L)",
              "scale": {"domain": [2, 10], "nice": false, "zero": false},
              "axis": {
                "values": [2,2.5,3,3.5,4,4.5,5,5.5,6,6.5,7,7.5,8,8.5,9,9.5,10],
                "format": "d",
                "titlePadding": 3,
                "labelExpr": "datum.value % 2 === 0 ? datum.label : ''",
                "gridDash": {"condition": {"test": "datum.value % 2 === 0", "value": []}, "value": [1, 2]}
              }
            },
            "shape": {"field": "g", "type": "nominal", "scale": {"domain": [1, 2], "range": ["square", "triangle-up"]}, "legend": null},
            "color": {"field": "g", "type": "nominal", "scale": {"domain": [1, 2], "range": ["#1f1ff0", "#f51f1f"]}, "legend": null},
            "size": {"field": "g", "type": "ordinal", "scale": {"domain": [1, 2], "range": [42, 110]}, "legend": null}
          }
        }
      ],
      "spacing": 214
    }
  ],
  "spacing": 69,
  "config": {
    "font": "Liberation Sans",
    "view": {"stroke": "#262626", "strokeWidth": 1.2},
    "axis": {
      "labelFont": "Liberation Sans",
      "labelFontSize": 22,
      "labelColor": "#262626",
      "labelOverlap": false,
      "labelFlush": false,
      "labelPadding": 12,
      "titleFont": "Liberation Sans",
      "titleFontSize": 24,
      "titleFontWeight": "bold",
      "titleColor": "#262626",
      "titlePadding": 10,
      "domain": false,
      "ticks": true,
      "tickSize": -4,
      "tickColor": "#262626",
      "gridColor": "#c8c8c8",
      "gridOpacity": 1
    },
    "title": {"font": "Liberation Serif", "fontSize": 46, "fontWeight": "bold", "color": "#000000"}
  }
}
